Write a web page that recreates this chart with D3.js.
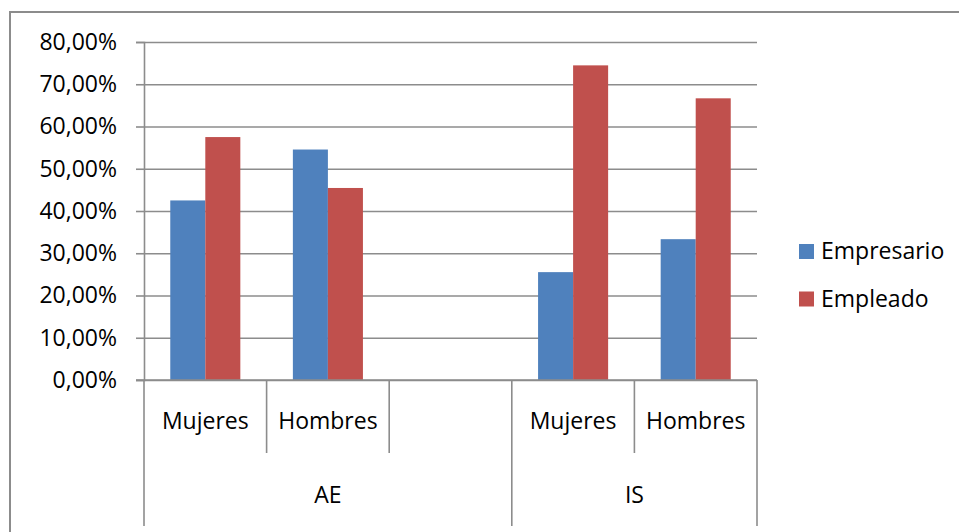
<!DOCTYPE html>
<html>
<head>
<meta charset="utf-8">
<script src="https://cdn.jsdelivr.net/npm/d3@7"></script>
<style>
  html, body { margin: 0; padding: 0; background: #fff; }
  svg { display: block; }
  text { font-family: "Open Sans", "Noto Sans", sans-serif; fill: #000; }
</style>
</head>
<body>
<svg id="chart" width="959" height="532"></svg>
<script>
// Category slots along the x axis (the empty slot separates the two groups)
const categories = ["Mujeres", "Hombres", "", "Mujeres", "Hombres"];
const groups     = ["AE", "AE", "AE", "IS", "IS"];
const seriesNames = ["Empresario", "Empleado"];
const empresario = [0.425, 0.5455, null, 0.2553, 0.3333];
const empleado   = [0.575, 0.4545, null, 0.7447, 0.6667];
const yTicks = [0, 0.1, 0.2, 0.3, 0.4, 0.5, 0.6, 0.7, 0.8];
const colors = ["#4F81BD", "#C0504D"];

const svg = d3.select("#chart");
const plotLeft = 144, plotRight = 757, plotTop = 42, plotBottom = 380;
const gridColor = "#8c8c8c";
const fontSize = 23;

// Outer chart-area frame
svg.append("rect")
  .attr("x", 10).attr("y", 12)
  .attr("width", 1000).attr("height", 600)
  .attr("fill", "none").attr("stroke", gridColor).attr("stroke-width", 2);

const slots = categories.map((c, i) => i);
const x0 = d3.scaleBand().domain(slots).range([plotLeft, plotRight]).padding(0);
const x1 = d3.scaleBand().domain(seriesNames).range([0, x0.bandwidth()])
  .paddingInner(0).paddingOuter(0.75);
const y = d3.scaleLinear().domain([0, 0.8]).range([plotBottom, plotTop]);

const locale = d3.formatLocale({ decimal: ",", thousands: ".", grouping: [3], currency: ["", "€"] });
const pct = locale.format(".2%");

// Horizontal gridlines
const grid = svg.append("g").attr("transform", `translate(${plotLeft},0)`)
  .call(d3.axisRight(y).tickValues(yTicks).tickSize(plotRight - plotLeft).tickFormat(""));
grid.select(".domain").remove();
grid.selectAll("line").attr("stroke", gridColor).attr("stroke-width", 1.6);

// Value axis with ticks and labels
const yAxis = svg.append("g").attr("transform", `translate(${plotLeft},0)`)
  .call(d3.axisLeft(y).tickValues(yTicks).tickSize(8).tickPadding(19).tickFormat(pct));
yAxis.select(".domain").attr("stroke", gridColor).attr("stroke-width", 1.6);
yAxis.selectAll(".tick line").attr("stroke", gridColor).attr("stroke-width", 1.6);
yAxis.selectAll("text").attr("font-size", fontSize).attr("font-family", "Open Sans").attr("fill", "#000");

// Bars
const series = [empresario, empleado];
series.forEach((vals, si) => {
  svg.append("g").selectAll("rect")
    .data(vals.map((v, i) => ({ v, i })).filter(d => d.v != null))
    .join("rect")
    .attr("x", d => x0(d.i) + x1(seriesNames[si]))
    .attr("width", x1.bandwidth())
    .attr("y", d => y(d.v))
    .attr("height", d => y(0) - y(d.v))
    .attr("fill", colors[si]);
});

// Baseline drawn over bars
svg.append("line")
  .attr("x1", plotLeft - 8).attr("x2", plotRight)
  .attr("y1", y(0)).attr("y2", y(0))
  .attr("stroke", gridColor).attr("stroke-width", 1.6);

// Category axis dividers: short between categories, long at group edges
const boundaries = slots.map(i => x0(i)).concat([plotRight]);
boundaries.forEach((bx, k) => {
  const isGroupEdge = k === 0 || k === categories.length || groups[k] !== groups[k - 1];
  svg.append("line")
    .attr("x1", bx).attr("x2", bx)
    .attr("y1", y(0)).attr("y2", isGroupEdge ? 526 : 453)
    .attr("stroke", gridColor).attr("stroke-width", 1.6);
});

// Category labels
svg.append("g").selectAll("text")
  .data(categories.map((c, i) => ({ c, i })).filter(d => d.c))
  .join("text")
  .attr("x", d => x0(d.i) + x0.bandwidth() / 2)
  .attr("y", 429)
  .attr("text-anchor", "middle")
  .attr("font-size", fontSize)
  .text(d => d.c);

// Group labels centred under their slots
const groupNames = Array.from(new Set(groups));
groupNames.forEach(g => {
  const idx = slots.filter(i => groups[i] === g);
  const gx0 = x0(idx[0]);
  const gx1 = x0(idx[idx.length - 1]) + x0.bandwidth();
  svg.append("text")
    .attr("x", (gx0 + gx1) / 2)
    .attr("y", 503)
    .attr("text-anchor", "middle")
    .attr("font-size", fontSize)
    .text(g);
});

// Legend
const legend = svg.append("g");
seriesNames.forEach((name, i) => {
  const ly = 244 + i * 47.5;
  legend.append("rect")
    .attr("x", 799).attr("y", ly)
    .attr("width", 15).attr("height", 15)
    .attr("fill", colors[i]);
  legend.append("text")
    .attr("x", 821).attr("y", ly + 15)
    .attr("font-size", fontSize)
    .text(name);
});
</script>
</body>
</html>
